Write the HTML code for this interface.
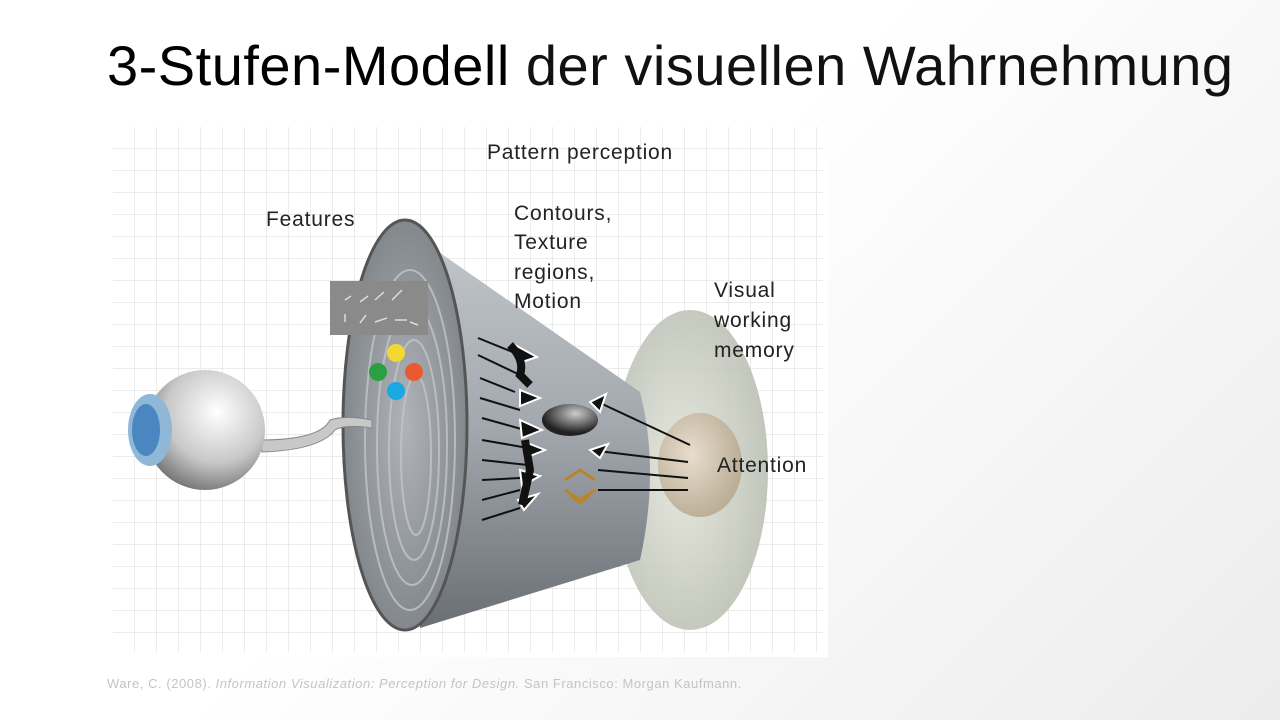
<!DOCTYPE html>
<html><head><meta charset="utf-8"><style>
html,body{margin:0;padding:0;}
body{width:1280px;height:720px;overflow:hidden;position:relative;background:linear-gradient(135deg,#ffffff 0%,#ffffff 45%,#ececec 100%);font-family:"Liberation Sans",sans-serif;}
.t{position:absolute;left:107px;top:33px;font-size:56px;color:#000;white-space:nowrap;letter-spacing:0.5px}
.t span{color:#111}
.cap{position:absolute;left:107px;top:676px;font-size:13px;color:#c4c4c4;white-space:nowrap;letter-spacing:0.55px}
svg{position:absolute;left:0;top:0}
</style></head><body>
<div class="t">3-Stufen-Modell <span>der visuellen Wahrnehmung</span></div>
<svg width="1280" height="720">
<defs>
<pattern id="g" width="22" height="22" patternUnits="userSpaceOnUse" x="113" y="127"><path d="M22 0V22M0 22H22" stroke="#d8d8d8" stroke-width="1" fill="none"/></pattern>
<radialGradient id="eye" cx="0.6" cy="0.35" r="0.7"><stop offset="0" stop-color="#fff"/><stop offset="0.6" stop-color="#c8c8c8"/><stop offset="1" stop-color="#707070"/></radialGradient>
<linearGradient id="cone" x1="0" y1="0" x2="0" y2="1"><stop offset="0" stop-color="#c4c8cc"/><stop offset="0.5" stop-color="#a2a8ae"/><stop offset="1" stop-color="#6a6f74"/></linearGradient>
<radialGradient id="disc" cx="0.5" cy="0.5" r="0.6"><stop offset="0" stop-color="#b0b4b8"/><stop offset="1" stop-color="#7a7f84"/></radialGradient>
<radialGradient id="wm" cx="0.45" cy="0.5" r="0.6"><stop offset="0" stop-color="#e4e6dc"/><stop offset="1" stop-color="#b8bcb0"/></radialGradient>
<radialGradient id="att" cx="0.4" cy="0.4" r="0.6"><stop offset="0" stop-color="#e8dccb"/><stop offset="1" stop-color="#b8a88e"/></radialGradient>
<radialGradient id="ov" cx="0.6" cy="0.3" r="0.6"><stop offset="0" stop-color="#ccc"/><stop offset="1" stop-color="#222"/></radialGradient>
</defs>
<rect x="108" y="122" width="720" height="535" fill="#fff"/>
<rect x="113" y="127" width="710" height="525" fill="url(#g)"/>
<ellipse cx="690" cy="470" rx="78" ry="160" fill="url(#wm)" opacity="0.9"/>
<path d="M400 225 L640 392 Q660 470 640 560 L420 628 Z" fill="url(#cone)"/>
<ellipse cx="700" cy="465" rx="42" ry="52" fill="url(#att)" opacity="0.85"/>
<ellipse cx="405" cy="425" rx="62" ry="205" fill="url(#disc)" stroke="#555" stroke-width="3"/>
<g fill="none" stroke="#c2c6ca" stroke-width="2" opacity="0.8">
<ellipse cx="410" cy="440" rx="45" ry="170"/><ellipse cx="412" cy="445" rx="35" ry="140"/><ellipse cx="414" cy="450" rx="25" ry="110"/><ellipse cx="416" cy="455" rx="15" ry="80"/>
</g>
<rect x="330" y="281" width="98" height="54" fill="#8a8a8a"/>
<g stroke="#ddd" stroke-width="1.5"><path d="M345 300l6-4M360 302l8-6M375 300l9-8M392 300l10-10M345 322v-8M360 323l6-8M375 322l12-4M395 320h12M410 322l8 3"/></g>
<circle cx="396" cy="353" r="9" fill="#f1d830"/><circle cx="378" cy="372" r="9" fill="#2aa040"/><circle cx="414" cy="372" r="9" fill="#e85a30"/><circle cx="396" cy="391" r="9" fill="#1aa8e0"/>
<g stroke="#111" stroke-width="2">
<path d="M478 338L520 355M478 355L520 375M480 378L515 392M480 398L520 410M482 418L525 430M482 440L528 448M482 460L528 465M482 480L520 478M482 500L520 490M482 520L520 508"/>
<path d="M690 445L598 402M688 462L590 450M688 478L598 470M688 490L598 490"/>
</g>
<g fill="#111" stroke="#fff" stroke-width="2">
<path d="M515 345l22 12-18 6z"/><path d="M520 390l20 8-20 8z"/><path d="M520 420l22 10-20 8z"/><path d="M525 442l20 8-20 8z"/><path d="M520 470l20 6-18 10z"/><path d="M518 500l20-6-14 16z"/>
<path d="M590 402l16-8-6 18z"/><path d="M590 450l18-6-8 14z"/></g>
<path d="M510 345 Q525 360 520 375 L530 385 M525 440 L530 470 L522 505" stroke="#111" stroke-width="8" fill="none"/>
<ellipse cx="570" cy="420" rx="28" ry="16" fill="url(#ov)"/>
<g stroke="#b8862a" stroke-width="3" fill="none"><path d="M565 480l15-10 15 10M565 490l15 10 15-10M570 495l10 8 10-8"/></g>
<path d="M260 440 Q320 440 330 420 Q345 415 372 420 L372 428 Q345 424 335 430 Q320 450 262 452z" fill="#c8c8c8" stroke="#888"/>
<circle cx="205" cy="430" r="60" fill="url(#eye)"/>
<ellipse cx="150" cy="430" rx="22" ry="36" fill="#8fb8d8"/><ellipse cx="146" cy="430" rx="14" ry="26" fill="#4a86c0"/>
<g font-family="Liberation Sans,sans-serif" font-size="21" fill="#222" letter-spacing="0.8">
<text x="487" y="159">Pattern perception</text>
<text x="266" y="226">Features</text>
<text x="514" y="220">Contours,</text><text x="514" y="249">Texture</text><text x="514" y="279">regions,</text><text x="514" y="308">Motion</text>
<text x="714" y="297">Visual</text><text x="714" y="327">working</text><text x="714" y="357">memory</text>
<text x="717" y="472">Attention</text>
</g>
</svg>
<div class="cap">Ware, C. (2008). <i>Information Visualization: Perception for Design.</i> San Francisco: Morgan Kaufmann.</div>
</body></html>
